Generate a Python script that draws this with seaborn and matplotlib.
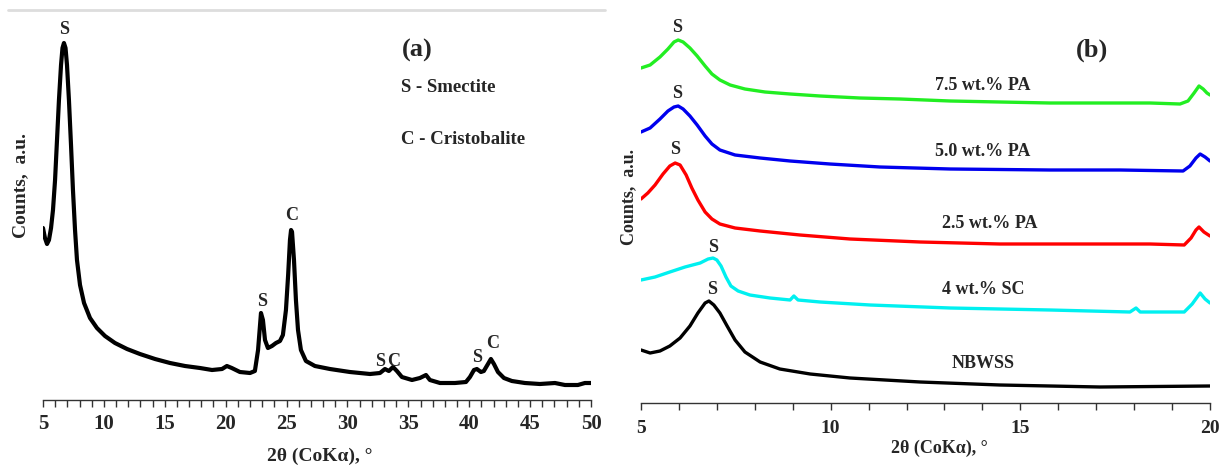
import numpy as np
import pandas as pd
import matplotlib
matplotlib.use("Agg")
import matplotlib.pyplot as plt
from matplotlib.ticker import MultipleLocator
from matplotlib.lines import Line2D
import seaborn as sns

# ---------------- data: panel (a) ----------------
a_two_theta = [5.0, 5.16, 5.33, 5.49, 5.66, 5.82, 5.99, 6.15, 6.31, 6.48, 6.6, 6.72, 6.85, 6.97,
               7.13, 7.30, 7.46, 7.63, 7.79, 8.04, 8.37, 8.86, 9.43, 10.09, 10.91, 11.90, 12.96,
               14.2, 15.43, 16.66, 17.89, 18.88, 19.7, 20.1, 20.5, 21.17, 22.0, 22.4, 22.66, 22.9,
               23.06, 23.23, 23.47, 23.8, 24.13, 24.46, 24.7, 24.95, 25.13, 25.28, 25.37, 25.45,
               25.61, 25.77, 25.94, 26.18, 26.59, 27.33, 28.56, 30.2, 31.85, 32.67, 33.08, 33.4,
               33.74, 34.06, 34.47, 35.3, 35.95, 36.45, 36.77, 37.6, 38.83, 39.73, 40.06, 40.39,
               40.63, 40.96, 41.2, 41.54, 41.78, 42.03, 42.36, 42.85, 43.5, 44.57, 45.8, 47.04,
               47.86, 48.92, 49.5, 50.0]
a_counts = [172, 162, 156, 160, 172, 190, 220, 260, 300, 335, 352, 357, 352, 335,
            300, 255, 210, 170, 140, 115, 97, 82, 72, 64, 57, 51, 46,
            41, 37, 34, 32, 30, 31, 34, 32, 28, 27, 29, 50, 87,
            80, 60, 52, 54, 57, 59, 65, 90, 125, 160, 170, 168,
            140, 100, 70, 50, 39, 34, 31, 28, 26, 27, 31, 29,
            33, 29, 23, 20, 22, 25, 20, 17, 17, 18, 23, 30,
            31, 28, 29, 36, 41, 36, 28, 22, 19, 17, 16, 17,
            15, 15, 17, 17]

a_peak_labels = ["S", "S", "C", "S", "C", "S", "C"]
a_peak_x = [6.7, 22.95, 25.4, 32.7, 33.8, 40.65, 41.95]
a_peak_y = [370, 98, 185, 38, 38, 42, 57]

# ---------------- data: panel (b) ----------------
green_x = [5.0, 5.24, 5.5, 5.71, 5.87, 5.98, 6.11, 6.29, 6.48, 6.69, 6.87, 7.08, 7.35, 7.74, 8.27,
           8.93, 9.72, 10.77, 11.83, 13.15, 14.46, 15.78, 17.1, 18.42, 19.21, 19.42, 19.58, 19.71,
           19.82, 19.92, 20.0]
green_y = [335, 338, 346, 354, 361, 363, 361, 355, 347, 337, 329, 323, 318, 314, 311,
           309, 307, 305, 304, 302, 301, 300, 300, 300, 299, 302, 310, 317,
           314, 310, 308]

blue_x = [5.0, 5.24, 5.5, 5.71, 5.87, 5.98, 6.11, 6.29, 6.48, 6.69, 6.87, 7.08, 7.48, 8.14, 8.93,
          9.98, 11.3, 13.15, 15.78, 17.63, 19.29, 19.47, 19.63, 19.74, 19.87, 20.0]
blue_y = [271, 275, 284, 292, 296, 297, 294, 287, 278, 267, 259, 253, 248, 245, 242,
          239, 236, 234, 233, 233, 232, 237, 245, 249, 246, 242]

red_x = [5.0, 5.18, 5.37, 5.58, 5.76, 5.9, 6.03, 6.19, 6.34, 6.5, 6.69, 6.87, 7.08, 7.48, 8.14,
         9.19, 10.51, 12.36, 14.46, 16.57, 18.42, 19.32, 19.5, 19.63, 19.71, 19.84, 20.0]
red_y = [204, 210, 218, 229, 237, 240, 238, 228, 215, 203, 191, 184, 179, 175, 172,
         168, 164, 161, 159, 159, 159, 158, 165, 173, 176, 171, 167]

cyan_x = [5.0, 5.37, 5.76, 6.16, 6.56, 6.77, 6.9, 7.0, 7.11, 7.24, 7.37, 7.56, 7.87, 8.4, 8.93,
          9.03, 9.14, 9.72, 11.04, 13.15, 15.78, 17.89, 18.05, 18.16, 19.32, 19.53, 19.74,
          19.87, 20.0]
cyan_y = [123, 126, 131, 136, 140, 144, 145, 143, 137, 126, 117, 112, 108, 105, 103,
          107, 103, 101, 98, 95, 93, 91, 95, 91, 91, 99, 110,
          104, 100]

black_x = [5.0, 5.24, 5.5, 5.76, 6.03, 6.29, 6.5, 6.69, 6.79, 6.92, 7.08, 7.27, 7.48, 7.74, 8.14,
           8.66, 9.46, 10.51, 12.36, 14.46, 17.1, 20.0]
black_y = [53, 50, 52, 57, 65, 77, 90, 100, 102, 98, 90, 77, 63, 51, 41,
           34, 29, 25, 21, 18, 16, 17]

b_samples = ["7.5 wt.% PA", "5.0 wt.% PA", "2.5 wt.% PA", "4 wt.% SC", "NBWSS"]
b_colors = ["#22ee22", "#0000ee", "#ff0000", "#00f0f0", "#000000"]
b_s_x = [5.95, 5.95, 5.9, 6.9, 6.87]
b_s_y = [376, 309, 253, 156, 113]
b_name_x = [14.02, 14.02, 14.2, 14.02, 14.02]
b_name_y = [318, 251, 179, 113, 39]

# ---------------- build frames ----------------
df_a = pd.DataFrame({"two_theta": a_two_theta, "counts": a_counts})
b_xs = [green_x, blue_x, red_x, cyan_x, black_x]
b_ys = [green_y, blue_y, red_y, cyan_y, black_y]
df_b = pd.concat([pd.DataFrame({"two_theta": x, "counts": y, "sample": s})
                  for x, y, s in zip(b_xs, b_ys, b_samples)], ignore_index=True)

# ---------------- style ----------------
sns.set_theme(style="white")
plt.rcParams["font.family"] = ["Liberation Serif", "DejaVu Serif"]
plt.rcParams["font.weight"] = "bold"
plt.rcParams["axes.labelweight"] = "bold"

W, H = 1222, 472
fig = plt.figure(figsize=(W / 100, H / 100), dpi=100)

ax_a = fig.add_axes([43 / W, (H - 400) / H, 548 / W, 390 / H])
ax_b = fig.add_axes([641 / W, (H - 403) / H, 569 / W, 393 / H])

sns.lineplot(data=df_a, x="two_theta", y="counts", ax=ax_a, color="black",
             linewidth=3.0, sort=False, estimator=None)
sns.lineplot(data=df_b, x="two_theta", y="counts", hue="sample", hue_order=b_samples,
             palette=b_colors, ax=ax_b, linewidth=2.4, sort=False, estimator=None,
             legend=False)

ax_a.set_xlim(5, 50)
ax_a.set_ylim(0, 390)
ax_b.set_xlim(5, 20)
ax_b.set_ylim(0, 393)

for ax, fs_tick in ((ax_a, 15), (ax_b, 14)):
    for sp in ("top", "right", "left"):
        ax.spines[sp].set_visible(False)
    ax.spines["bottom"].set_color("#333333")
    ax.spines["bottom"].set_linewidth(1.0)
    ax.xaxis.set_major_locator(MultipleLocator(5))
    ax.xaxis.set_minor_locator(MultipleLocator(1))
    ax.tick_params(axis="x", which="both", direction="out", length=5, width=1,
                   color="#333333", bottom=True, labelsize=fs_tick, pad=5)
    ax.set_yticks([])
    for lab in ax.get_xticklabels():
        lab.set_fontweight("bold")

ax_b.tick_params(axis="x", which="both", pad=7)

# axis labels
ax_a.set_xlabel("2θ (CoKα), °", fontsize=14, fontweight="bold", va="top")
ax_a.xaxis.set_label_coords(0.505, -0.122)
ax_a.set_ylabel("Counts,  a.u.", fontsize=14, fontweight="bold")
ax_a.yaxis.set_label_coords(-0.026, 0.55)

ax_b.set_xlabel("2θ (CoKα), °", fontsize=13, fontweight="bold", va="top")
ax_b.xaxis.set_label_coords(0.525, -0.094)
ax_b.set_ylabel("Counts,  a.u.", fontsize=13, fontweight="bold")
ax_b.yaxis.set_label_coords(-0.006, 0.525)

# annotations panel (a)
for lab, x, y in zip(a_peak_labels, a_peak_x, a_peak_y):
    ax_a.text(x, y, lab, ha="center", va="center", fontsize=13, fontweight="bold")
ax_a.text(35.7, 350, "(a)", ha="center", va="center", fontsize=19, fontweight="bold")
ax_a.text(34.4, 313, "S - Smectite", ha="left", va="center", fontsize=13.5, fontweight="bold")
ax_a.text(34.4, 260, "C - Cristobalite", ha="left", va="center", fontsize=13.5, fontweight="bold")

# annotations panel (b)
for x, y in zip(b_s_x, b_s_y):
    ax_b.text(x, y, "S", ha="center", va="center", fontsize=13, fontweight="bold")
for name, x, y in zip(b_samples, b_name_x, b_name_y):
    ax_b.text(x, y, name, ha="center", va="center", fontsize=13, fontweight="bold")
ax_b.text(16.9, 353, "(b)", ha="center", va="center", fontsize=19, fontweight="bold")

# faint rule at the top of panel (a)
fig.add_artist(Line2D([8 / W, 605 / W], [1 - 10 / H, 1 - 10 / H], color="#dddddd", lw=2))

fig.savefig("out.png", dpi=100, facecolor="white")
